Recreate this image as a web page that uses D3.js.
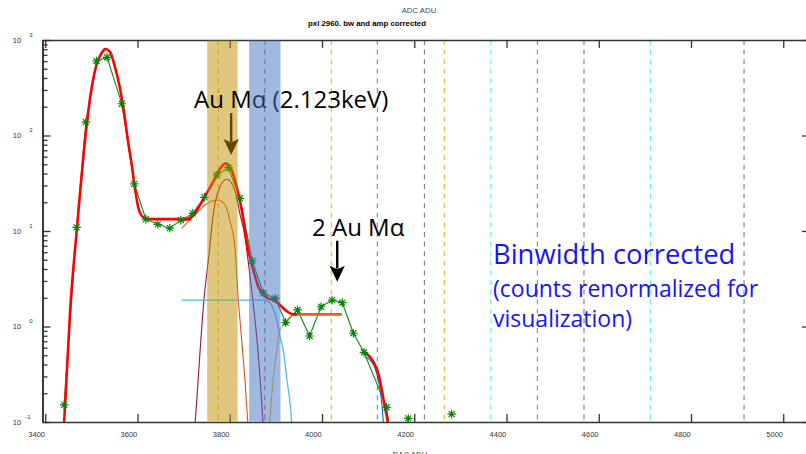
<!DOCTYPE html>
<html>
<head>
<meta charset="utf-8">
<script src="https://cdn.jsdelivr.net/npm/d3@7"></script>
<style>
  body { margin: 0; background: #fff; }
  svg { display: block; font-family: "Liberation Sans", Arial, sans-serif; }
</style>
</head>
<body>
<svg id="chart" width="806" height="454"></svg>
<script>
const w = 806
const h = 454

const xTicks = [3400, 3600, 3800, 4000, 4200, 4400, 4600, 4800, 5000]
const yDecades = [0.1, 1, 10, 100, 1000]
const yExps = ['-1', '0', '1', '2', '3']

// measured spectrum (green stars), 0 = empty bin
const dataX = [3416, 3441, 3468, 3488, 3511, 3534, 3566, 3593, 3618, 3644, 3670, 3694, 3720, 3745, 3772, 3797, 3822, 3849, 3873, 3899, 3921, 3947, 3973, 3998, 4022, 4044, 4068, 4091, 4140, 4163, 4187, 4211, 4234, 4258, 4281, 4305]
const dataY = [0, 0.151, 10.9, 138, 603, 659, 215, 31.1, 13.3, 11.75, 10.7, 13.0, 15.3, 22.5, 38.6, 46.0, 22.0, 4.85, 2.23, 1.97, 1.10, 1.49, 0.795, 1.61, 1.89, 1.78, 0.85, 0.537, 0.1426, 0.02, 0.109, 0, 0, 0, 0.121, 0]

// fit, first region (main peak + flat background)
const fit1X = [3435, 3441, 3454, 3469, 3491, 3501, 3512, 3522, 3530, 3540, 3551, 3562, 3571, 3579, 3587, 3595, 3602, 3613, 3627, 3717]
const fit1Y = [0.025, 0.10, 1.49, 11.1, 145, 324, 570, 726, 805, 754, 525, 312, 171, 90, 51, 27, 17.3, 13.9, 13.3, 13.3]

// fit, second region (Au M alpha)
const fit2X = [3696, 3717, 3746, 3768, 3782, 3791, 3804, 3815, 3826, 3834, 3840, 3847, 3855, 3862, 3873, 3883, 3894, 3905, 3916, 3927, 3938, 3945]
const fit2Y = [12.9, 14.1, 22.9, 35.6, 47.1, 51.2, 43.5, 29.1, 16.6, 9.46, 6.32, 4.59, 3.32, 2.61, 2.14, 1.97, 1.89, 1.75, 1.55, 1.41, 1.34, 1.34]

const tailX = [3932, 4043]
const tailY = [1.34, 1.34]

// fit, third region (edge)
const fit3X = [4089, 4100, 4111, 4122, 4129, 4136, 4142, 4146]
const fit3Y = [0.544, 0.503, 0.428, 0.324, 0.226, 0.145, 0.105, 0.073]
const edgeX = [4093, 4104, 4115, 4122, 4128, 4133, 4135]
const edgeY = [0.483, 0.446, 0.365, 0.275, 0.184, 0.0993, 0.07]

// components
const orangeX = [3696, 3735, 3746, 3775, 3790, 3800, 3811, 3818, 3824, 3833, 3839, 3842]
const orangeY = [10.67, 16.6, 18.7, 21.1, 18.7, 13.0, 6.85, 2.05, 0.919, 0.275, 0.10, 0.065]
const maroonX = [3721, 3725, 3744, 3756, 3761, 3768, 3779, 3793, 3804, 3813, 3822, 3831, 3839, 3850, 3861, 3872, 3875]
const maroonY = [0.057, 0.1, 1.89, 6.32, 11.1, 19.5, 29.1, 34.8, 31.6, 24.8, 15.1, 9.76, 5.21, 1.89, 0.568, 0.1, 0.057]
const shelfX = [3696, 3873, 3887, 3894, 3902, 3909, 3916, 3924, 3934, 3936]
const shelfY = [1.89, 1.89, 1.79, 1.55, 1.17, 0.782, 0.568, 0.275, 0.1, 0.065]
const riseX = [3885, 3887, 3894, 3902, 3909, 3920, 3930, 3941]
const riseY = [0.065, 0.1, 0.275, 0.568, 0.919, 1.08, 1.27, 1.34]

// energy marker lines
const markX = [3775, 3876, 4020, 4120, 4222, 4265, 4366, 4467, 4568, 4712, 4915]
const markKind = ['y', 'k', 'y', 'b', 'k', 'y', 'c', 'b', 'k', 'c', 'k']
const kindColor = { y: '#edb120', k: '#7a7a7a', b: '#7b7bff', c: '#5ef0f0' }

const goldBand = [3751, 3817]
const blueBand = [3842, 3910]

const arrowX = [3803, 4033]
const arrowTop = [172, 7.9]
const arrowTip = [62.5, 2.95]

const svg = d3.select('#chart')

const x = d3.scaleLinear().domain([3394, 5058]).range([42.5, 810])
const y = d3.scaleLog().domain([0.1, 1000]).range([422, 40])

svg.append('defs').append('clipPath').attr('id', 'plot')
    .append('rect').attr('x', 42.5).attr('y', 40).attr('width', 770).attr('height', 382)

const plot = svg.append('g').attr('clip-path', 'url(#plot)')

// dashed lines
plot.selectAll('line.mark')
    .data(markX)
    .enter()
    .append('line')
    .attr('x1', d => x(d)).attr('x2', d => x(d))
    .attr('y1', 40).attr('y2', 422)
    .attr('stroke', (d, i) => kindColor[markKind[i]])
    .attr('stroke-width', 1.1)
    .attr('stroke-dasharray', '5,4.6')

const zip = (xs, ys) => xs.map((v, i) => ({ x: v, y: ys[i] }))
const line = d3.line()
    .defined(d => d.y > 0)
    .x(d => x(d.x))
    .y(d => y(d.y))
const smooth = d3.line()
    .x(d => x(d.x))
    .y(d => y(d.y))
    .curve(d3.curveMonotoneX)

// data line
plot.append('path')
    .attr('d', line(zip(dataX, dataY)))
    .attr('fill', 'none')
    .attr('stroke', '#138a13')
    .attr('stroke-width', 1.1)

function curve(xs, ys, color, width) {
    plot.append('path')
        .attr('d', smooth(zip(xs, ys)))
        .attr('fill', 'none')
        .attr('stroke', color)
        .attr('stroke-width', width)
}

curve(orangeX, orangeY, '#d95319', 1.1)
curve(maroonX, maroonY, '#a2142f', 1.1)
curve(shelfX, shelfY, '#4dbeee', 1.3)
curve(riseX, riseY, '#edb120', 1.1)
curve(edgeX, edgeY, '#0072bd', 1.1)
curve(fit1X, fit1Y, '#ff0000', 2.6)
curve(tailX, tailY, '#f4561c', 2.6)
curve(fit2X, fit2Y, '#ff0000', 2.6)
curve(fit3X, fit3Y, '#ff0000', 2.6)

// asterisk markers
svg.append('g')
    .selectAll('path')
    .data(zip(dataX, dataY).filter(d => d.y > 0))
    .enter()
    .append('path')
    .attr('transform', d => `translate(${x(d.x)},${y(d.y)})`)
    .attr('d', 'M-4.3,0H4.3M0,-4.3V4.3M-3,-3L3,3M-3,3L3,-3')
    .attr('stroke', '#0a820a')
    .attr('stroke-width', 1.2)

// axes
function styleAxis(g) {
    g.select('.domain').attr('stroke', '#333').attr('stroke-width', 1.6)
    g.selectAll('.tick line').attr('stroke', '#333').attr('stroke-width', 1.3)
}
svg.append('g').attr('transform', 'translate(0,422)')
    .call(d3.axisBottom(x).tickValues(xTicks).tickSize(-8).tickSizeOuter(0).tickFormat(''))
    .call(styleAxis)
svg.append('g').attr('transform', 'translate(0,40)')
    .call(d3.axisTop(x).tickValues(xTicks).tickSize(-8).tickSizeOuter(0).tickFormat(''))
    .call(styleAxis)
const minors = y.ticks().filter(v => !yDecades.some(d => Math.abs(d - v) < 1e-9))
svg.append('g').attr('transform', 'translate(42.5,0)')
    .call(d3.axisLeft(y).tickValues(minors).tickSize(-5).tickSizeOuter(0).tickFormat(''))
    .call(styleAxis)
svg.append('g').attr('transform', 'translate(42.5,0)')
    .call(d3.axisLeft(y).tickValues(yDecades).tickSize(-8).tickSizeOuter(0).tickFormat(''))
    .call(styleAxis)
svg.append('g').attr('transform', 'translate(810,0)')
    .call(d3.axisRight(y).tickValues(yDecades).tickSize(-8).tickSizeOuter(0).tickFormat(''))
    .call(styleAxis)

// tick labels
svg.append('g')
    .selectAll('text')
    .data(xTicks)
    .enter()
    .append('text')
    .attr('x', d => x(d) - 8.6)
    .attr('y', 436.5)
    .attr('text-anchor', 'middle')
    .attr('font-size', 7.5)
    .attr('fill', '#333')
    .text(d => d)

const yl = svg.append('g').selectAll('g')
    .data(yDecades)
    .enter()
    .append('g')
yl.append('text')
    .attr('x', 17)
    .attr('y', d => y(d) + 2.5)
    .attr('text-anchor', 'middle')
    .attr('font-size', 7.5)
    .attr('fill', '#333')
    .text('10')
yl.append('text')
    .attr('x', (d, i) => i === 0 ? 28 : 31)
    .attr('y', d => y(d) - 3.5)
    .attr('text-anchor', 'middle')
    .attr('font-size', 6)
    .attr('fill', '#333')
    .text((d, i) => yExps[i])

// titles
svg.append('text').attr('x', 419).attr('y', 12.5).attr('text-anchor', 'middle')
    .attr('font-size', 7.8).attr('fill', '#444').text('ADC ADU')
svg.append('text').attr('x', 367).attr('y', 25.5).attr('text-anchor', 'middle')
    .attr('font-size', 7.8).attr('font-weight', 'bold').attr('fill', '#000').text('pxl 2960. bw and amp corrected')
svg.append('text').attr('x', 410).attr('y', 457).attr('text-anchor', 'middle')
    .attr('font-size', 7.8).attr('fill', '#444').text('DAC ADU')

// annotations
function arrow(i) {
    const ax = x(arrowX[i])
    const top = y(arrowTop[i])
    const tip = y(arrowTip[i])
    const head = 16
    const g = svg.append('g')
    g.append('line')
        .attr('x1', ax).attr('x2', ax)
        .attr('y1', top).attr('y2', tip - head + 3)
        .attr('stroke', '#000').attr('stroke-width', 2.4)
    g.append('path')
        .attr('d', `M${ax - 7.6},${tip - head}L${ax},${tip - head + 3.5}L${ax + 7.6},${tip - head}L${ax},${tip}Z`)
        .attr('fill', '#000')
}

arrow(0)

svg.append('rect')
    .attr('x', x(goldBand[0])).attr('y', 40.5)
    .attr('width', x(goldBand[1]) - x(goldBand[0])).attr('height', 381)
    .attr('fill', '#bf9000').attr('fill-opacity', 0.5)

const big = '"Open Sans", "Noto Sans", sans-serif'
svg.append('text').attr('x', 194).attr('y', 107.5)
    .attr('font-family', big).attr('font-size', 24).attr('fill', '#000')
    .text('Au M\u03b1 (2.123keV)')

svg.append('rect')
    .attr('x', x(blueBand[0])).attr('y', 40.5)
    .attr('width', x(blueBand[1]) - x(blueBand[0])).attr('height', 381)
    .attr('fill', '#4472c4').attr('fill-opacity', 0.5)

arrow(1)
svg.append('text').attr('x', 312).attr('y', 236)
    .attr('font-family', big).attr('font-size', 24).attr('fill', '#000')
    .text('2 Au M\u03b1')

const note = svg.append('g').attr('font-family', big).attr('fill', '#1515f5')
note.append('text').attr('x', 493).attr('y', 263.5).attr('font-size', 27.4).text('Binwidth corrected')
note.append('text').attr('x', 493).attr('y', 296.5).attr('font-size', 23).text('(counts renormalized for')
note.append('text').attr('x', 493).attr('y', 327).attr('font-size', 23).text('visualization)')
</script>
</body>
</html>
